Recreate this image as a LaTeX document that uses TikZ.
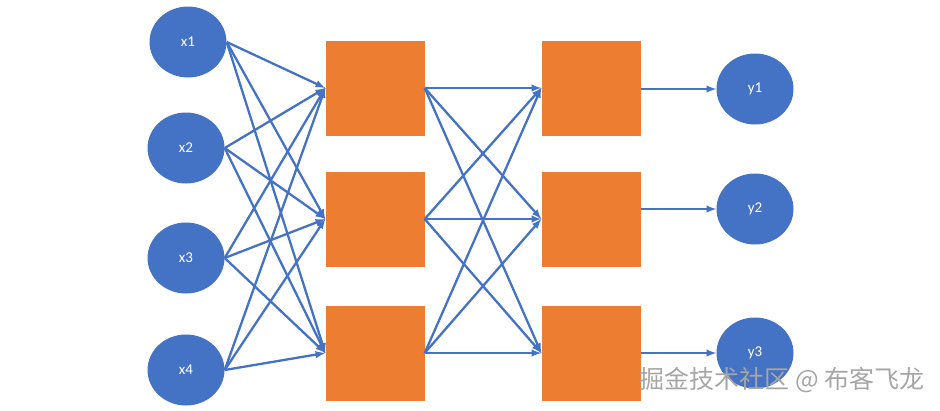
\documentclass[tikz,border=0pt]{standalone}
\usepackage{fontspec}
\setmainfont{Carlito}
\newfontfamily\cjkfont{Noto Sans CJK SC}
\usepackage{xcolor}
\usetikzlibrary{shapes.geometric}

\definecolor{nnblue}{HTML}{4472C4}
\definecolor{nnorange}{HTML}{ED7D31}

\begin{document}
\begin{tikzpicture}[
  x=1pt,y=-1pt,
  neuron/.style={ellipse,fill=nnblue,text=white,minimum width=77pt,minimum height=71pt,inner sep=0pt,font=\fontsize{15}{17}\selectfont},
  hidden/.style={rectangle,fill=nnorange,minimum width=99pt,minimum height=95pt,inner sep=0pt},
  link/.style={draw=nnblue,line width=2.3pt,-latex}
  ]
\useasboundingbox (0,0) rectangle (940,410);

% inputs
\node[neuron] (x1) at (188,42) {x1};
\node[neuron] (x2) at (186,148) {x2};
\node[neuron] (x3) at (186,258) {x3};
\node[neuron] (x4) at (186,370) {x4};

% hidden layers
\node[hidden] (a1) at (375,88) {};
\node[hidden] (a2) at (375,219) {};
\node[hidden] (a3) at (375,353) {};
\node[hidden] (b1) at (591,88) {};
\node[hidden] (b2) at (591,219) {};
\node[hidden] (b3) at (591,353) {};

% outputs
\node[neuron] (y1) at (755,89) {y1};
\node[neuron] (y2) at (755,209) {y2};
\node[neuron] (y3) at (755,353) {y3};

\foreach \i in {1,...,4}
  \foreach \j in {1,2,3}
    \draw[link] (x\i.east) -- (a\j.west);
\foreach \i in {1,2,3}
  \foreach \j in {1,2,3}
    \draw[link] (a\i.east) -- (b\j.west);
\draw[link] (b1.east |- y1.west) -- (y1.west);
\draw[link] (b2.east |- y2.west) -- (y2.west);
\draw[link] (b3.east) -- (y3.west);

\node[text=gray!70,font=\cjkfont\fontsize{25}{27}\selectfont,anchor=east] (mark) at (928,380) {掘金技术社区 @ 布客飞龙};

\end{tikzpicture}
\end{document}
